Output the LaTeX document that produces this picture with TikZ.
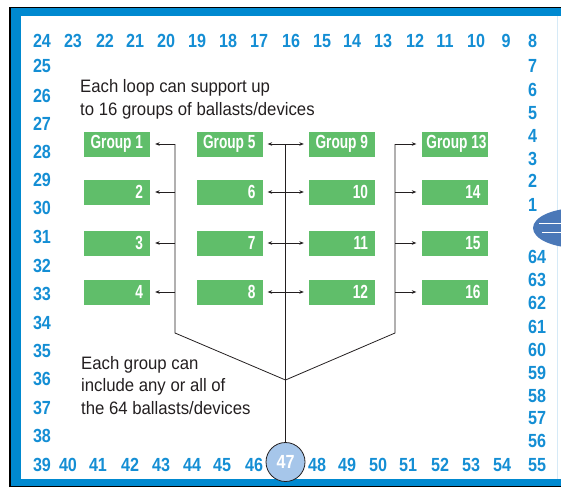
\documentclass[tikz,border=0pt]{standalone}
\usepackage{fontspec}
\setmainfont{Liberation Sans}
\newfontfamily\numfont{Liberation Sans}[FakeStretch=0.85]
\newfontfamily\grpfont{Liberation Sans}[FakeStretch=0.72]
\newfontfamily\notefont{Liberation Sans}[FakeStretch=0.93]
\usetikzlibrary{arrows.meta}

\definecolor{bandblue}{RGB}{0,137,208}
\definecolor{numblue}{RGB}{20,142,212}
\definecolor{grpgreen}{RGB}{96,190,106}
\definecolor{hubblue}{RGB}{166,198,234}
\definecolor{discblue}{RGB}{74,120,184}
\definecolor{inkgray}{RGB}{35,31,32}
\definecolor{edgeblue}{RGB}{214,234,247}

\tikzset{
  addr/.style={font=\numfont\bfseries\fontsize{19}{19}\selectfont, text=numblue, inner sep=0pt},
  addrR/.style={addr, anchor=west},
  grp/.style={fill=grpgreen, minimum width=66pt, minimum height=25pt, inner sep=0pt,
    text=white, font=\grpfont\bfseries\fontsize{19}{19}\selectfont},
  trunk/.style={draw=inkgray, line width=0.8pt},
  feed/.style={trunk, -{Stealth[length=4.5pt,width=3.6pt]}, shorten >=5pt},
  note/.style={font=\notefont\fontsize{18}{22.5}\selectfont, text=inkgray, align=left, inner sep=0pt},
}

\begin{document}
\begin{tikzpicture}[x=1pt,y=-1pt]
\useasboundingbox (0,0) rectangle (561,487);

% frame: blue band with a dark outer edge
\fill[bandblue] (11,8.5) rectangle (561,16.5);
\fill[bandblue] (11,8.5) rectangle (20.5,487);
\fill[bandblue] (11,479) rectangle (561,487);
\draw[black, line width=1.5pt] (10.2,487) -- (10.2,7.6) -- (561,7.6);
\draw[black, line width=1pt] (10.2,486.5) -- (561,486.5);
\draw[edgeblue, line width=0.8pt] (557.5,16.5) -- (557.5,479);

% loop interface disc on the right edge
\fill[discblue] (578,228) ellipse [x radius=45, y radius=20];
\draw[white, line width=0.7pt] (539,223.5) -- (561,223.5);
\draw[white, line width=0.7pt] (542,232) -- (561,232);

% top row of addresses
\foreach \t/\x in {24/42,23/73,22/105,21/135,20/166,19/197,18/228,17/259,
                   16/291,15/322,14/352,13/383,12/415,11/445,10/476,9/506}
  \node[addr] (t\t) at (\x,41) {\t};
\node[addrR] (r8) at (528,41) {8};

% left column
\foreach \t/\y in {25/66,26/96,27/124,28/152,29/180,30/208,31/237,32/266,
                   33/294,34/323,35/351,36/379,37/408,38/436}
  \node[addr] (l\t) at (42,\y) {\t};

% right column
\foreach \t/\y in {7/66,6/90,5/113,4/136,3/159,2/181,1/205,
                   64/257,63/280,62/303,61/327,60/350,59/373,58/396,57/418,56/441}
  \node[addrR] (r\t) at (528,\y) {\t};

% bottom row
\foreach \t/\x in {39/42,40/68,41/98,42/130,43/161,44/192,45/222,46/254,
                   48/317,49/347,50/378,51/408,52/440,53/471,54/502}
  \node[addr] (b\t) at (\x,465) {\t};
\node[addrR] (r55) at (528,465) {55};

% groups: name / x / y / text box width / label
\foreach \n/\x/\y/\w/\t in {g1/117/144/52/Group 1, g2/117/192/52/2, g3/117/243/52/3, g4/117/292/52/4,
                         g5/229.5/144/52/Group 5, g6/229.5/192/52/6, g7/229.5/243/52/7, g8/229.5/292/52/8,
                         g9/342/144/52/Group 9, g10/342/192/52/10, g11/342/243/52/11, g12/342/292/52/12,
                         g13/454.5/144/58/Group 13, g14/454.5/192/52/14, g15/454.5/243/52/15, g16/454.5/292/52/16}
  \node[grp] (\n) at (\x,\y) {\makebox[\w pt][r]{\t}\hspace*{\dimexpr 52pt-\w pt\relax}};

% addressed device on the loop
\node[circle, draw=inkgray, line width=0.8pt, fill=hubblue, minimum size=39pt, inner sep=0pt,
      text=white, font=\numfont\bfseries\fontsize{19}{19}\selectfont] (hub) at (285.5,462) {47};

% trunks
\coordinate (tL) at (175,144);
\coordinate (bL) at (175,333);
\coordinate (tM) at (285.5,144);
\coordinate (tR) at (395,144);
\coordinate (bR) at (395,333);
\coordinate (jn) at (285.5,380);
\draw[trunk] (tL) -- (bL) -- (jn) -- (bR) -- (tR);
\draw[trunk] (tM) -- (hub);

% feeds into the groups
\foreach \n in {g1,g2,g3,g4} \draw[feed] (\n.east -| tL) -- (\n.east);
\foreach \n in {g5,g6,g7,g8} \draw[feed] (\n.east -| tM) -- (\n.east);
\foreach \n in {g9,g10,g11,g12} \draw[feed] (\n.west -| tM) -- (\n.west);
\foreach \n in {g13,g14,g15,g16} \draw[feed] (\n.west -| tR) -- (\n.west);

% notes (anchored on the baseline of their last line)
\node[note, anchor=base west] (noteA) at (80,115) {Each loop can support up\\to 16 groups of ballasts/devices};
\node[note, anchor=base west] (noteB) at (81,414) {Each group can\\include any or all of\\the 64 ballasts/devices};
\end{tikzpicture}
\end{document}
